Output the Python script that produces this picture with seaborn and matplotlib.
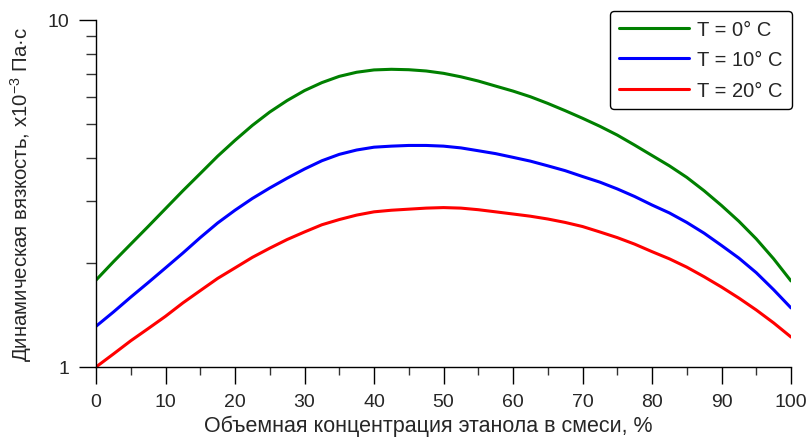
import numpy as np
import pandas as pd
import matplotlib
matplotlib.use("Agg")
import matplotlib.pyplot as plt
from matplotlib.ticker import LogLocator, NullFormatter, FixedLocator, FixedFormatter
import seaborn as sns

# Ethanol volume fraction in the water–ethanol mixture, %
conc = [0, 2.5, 5, 7.5, 10, 12.5, 15, 17.5, 20, 22.5, 25, 27.5, 30, 32.5, 35, 37.5,
        40, 42.5, 45, 47.5, 50, 52.5, 55, 57.5, 60, 62.5, 65, 67.5, 70, 72.5, 75,
        77.5, 80, 82.5, 85, 87.5, 90, 92.5, 95, 97.5, 100]

# Dynamic viscosity, 10^-3 Pa·s
visc_0c = [1.78, 2.01, 2.26, 2.54, 2.86, 3.22, 3.61, 4.05, 4.50, 4.97, 5.43, 5.86,
           6.26, 6.60, 6.88, 7.07, 7.18, 7.21, 7.19, 7.13, 7.02, 6.86, 6.67, 6.45,
           6.24, 6.01, 5.75, 5.48, 5.21, 4.94, 4.66, 4.36, 4.07, 3.80, 3.52, 3.22,
           2.92, 2.63, 2.34, 2.05, 1.77]
visc_10c = [1.31, 1.44, 1.59, 1.75, 1.93, 2.13, 2.36, 2.60, 2.83, 3.06, 3.28, 3.50,
            3.72, 3.93, 4.10, 4.22, 4.30, 4.33, 4.35, 4.35, 4.33, 4.28, 4.20, 4.12,
            4.02, 3.92, 3.80, 3.68, 3.54, 3.41, 3.26, 3.10, 2.93, 2.78, 2.61, 2.43,
            2.24, 2.06, 1.87, 1.67, 1.48]
visc_20c = [1.00, 1.09, 1.19, 1.29, 1.40, 1.53, 1.66, 1.80, 1.93, 2.07, 2.20, 2.33,
            2.45, 2.57, 2.66, 2.74, 2.80, 2.83, 2.85, 2.87, 2.88, 2.87, 2.84, 2.80,
            2.76, 2.72, 2.67, 2.61, 2.54, 2.45, 2.36, 2.26, 2.15, 2.05, 1.94, 1.82,
            1.70, 1.58, 1.46, 1.34, 1.22]

series_labels = ["T = 0° C", "T = 10° C", "T = 20° C"]
series_colors = ["#008000", "#0000ff", "#ff0000"]
x_ticks = [0, 10, 20, 30, 40, 50, 60, 70, 80, 90, 100]
y_ticks = [1, 10]
y_tick_labels = ["1", "10"]

df = pd.concat(
    [pd.DataFrame({"conc": conc, "visc": v, "T": lab})
     for v, lab in zip([visc_0c, visc_10c, visc_20c], series_labels)],
    ignore_index=True,
)

sns.set_style("ticks")
plt.rcParams["font.family"] = ["Liberation Sans", "DejaVu Sans"]
plt.rcParams["mathtext.fontset"] = "custom"
plt.rcParams["mathtext.rm"] = "Liberation Sans"

fig = plt.figure(figsize=(8.07, 4.39), dpi=100)
ax = fig.add_axes([96 / 807, 1 - 368 / 439, (791 - 96) / 807, (368 - 21) / 439])

sns.lineplot(data=df, x="conc", y="visc", hue="T", hue_order=series_labels,
             palette=series_colors, linewidth=2.2, ax=ax)
for line in ax.get_lines():
    line.set_solid_joinstyle("round")

ax.set_yscale("log")
ax.set_xlim(0, 100)
ax.set_ylim(1, 10)

ax.xaxis.set_major_locator(FixedLocator(x_ticks))
ax.xaxis.set_minor_locator(FixedLocator([v + 5 for v in x_ticks[:-1]]))
ax.yaxis.set_major_locator(FixedLocator(y_ticks))
ax.yaxis.set_major_formatter(FixedFormatter(y_tick_labels))
ax.yaxis.set_minor_locator(LogLocator(base=10, subs=np.arange(2, 10)))
ax.yaxis.set_minor_formatter(NullFormatter())

for side in ("top", "right"):
    ax.spines[side].set_visible(False)
for side in ("left", "bottom"):
    ax.spines[side].set_linewidth(1.0)
    ax.spines[side].set_color("black")

ax.tick_params(axis="both", which="major", direction="out", length=12, width=1,
               color="black", labelsize=14, pad=7)
ax.tick_params(axis="y", which="minor", direction="out", length=7, width=1, color="#333333")
ax.tick_params(axis="x", which="minor", direction="out", length=6, width=1, color="#333333")

ax.set_xlabel("Объемная концентрация этанола в смеси, %", fontsize=15.5)
ax.xaxis.set_label_coords(0.478, -0.138)
ax.xaxis.label.set_verticalalignment("top")
ax.set_ylabel("Динамическая вязкость, x10$^{\\mathregular{-3}}$ Па·с", fontsize=14.7, labelpad=10)

leg = ax.get_legend()
handles = leg.legend_handles
labels = [t.get_text() for t in leg.get_texts()]
leg.remove()
legend = ax.legend(handles, labels, loc="upper right",
                   bbox_to_anchor=(792 / 807, 1 - 12 / 439), bbox_transform=fig.transFigure,
                   borderaxespad=0, fontsize=14.5, handlelength=3.5, handletextpad=0.4,
                   labelspacing=0.56, borderpad=0.45, fancybox=True, frameon=True,
                   framealpha=1, edgecolor="black")
legend.get_frame().set_linewidth(1.0)
for line in legend.get_lines():
    line.set_linewidth(2.2)

fig.savefig("out.png", dpi=100)
